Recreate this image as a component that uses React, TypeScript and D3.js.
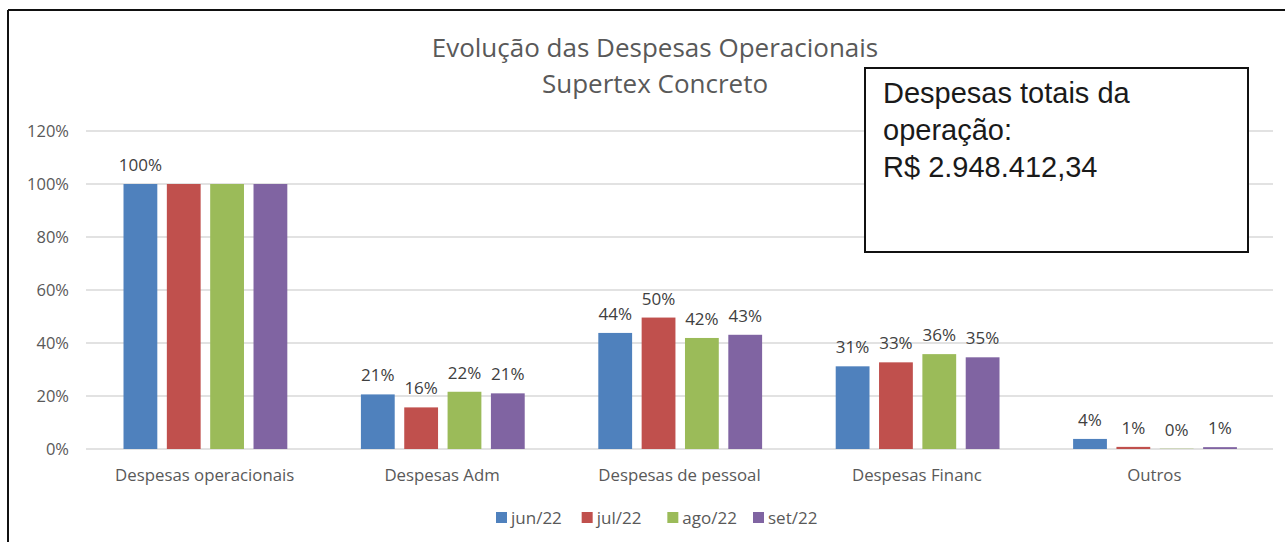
import * as d3 from "d3";

const W = 1285;
const H = 542;

const categories = [
  "Despesas operacionais",
  "Despesas Adm",
  "Despesas de pessoal",
  "Despesas Financ",
  "Outros",
];
const series = ["jun/22", "jul/22", "ago/22", "set/22"];
const colors = ["#4F81BD", "#C0504D", "#9BBB59", "#8064A2"];

// % of operational expenses
const jun = [100, 20.6, 43.8, 31.2, 3.8];
const jul = [100, 15.7, 49.6, 32.7, 0.8];
const ago = [100, 21.6, 41.9, 35.8, 0.1];
const set = [100, 21.0, 43.1, 34.6, 0.7];
const values = [jun, jul, ago, set];

// Excel hid the overlapping 100% labels
const hiddenLabels = ["Despesas operacionais|jul/22", "Despesas operacionais|ago/22", "Despesas operacionais|set/22"];

const yTicks = [0, 20, 40, 60, 80, 100, 120];
const titleLines = ["Evolução das Despesas Operacionais", "Supertex Concreto"];
const boxLines = ["Despesas totais da", "operação:", "R$ 2.948.412,34"];

const font = "'Open Sans', sans-serif";
const grey = "#595959";

export default function App() {
  const x0 = d3.scaleBand().domain(categories).range([86, 1273]);
  const bw = x0.bandwidth();
  const x1 = d3
    .scaleBand()
    .domain(series)
    .range([bw * 0.158, bw * 0.848])
    .paddingInner(0.22);
  const y = d3.scaleLinear().domain([0, 120]).range([449, 131]);
  const fmt = (v: number) => d3.format(".0%")(v / 100);
  const legendX = d3.scalePoint().domain(series).range([496, 753]);

  return (
    <svg width={W} height={H} style={{ position: "absolute", left: 0, top: 0, background: "#fff" }}>
      {/* frame */}
      <line x1={8} x2={W} y1={10} y2={10} stroke="#111" strokeWidth={2} />
      <line x1={8} x2={8} y1={10} y2={H} stroke="#111" strokeWidth={2} />

      {/* title */}
      {titleLines.map((t, i) => (
        <text key={t} x={655} y={57 + i * 36} textAnchor="middle" fontFamily={font} fontSize={26} fill={grey}>
          {t}
        </text>
      ))}

      {/* grid + y labels */}
      {yTicks.map((t) => (
        <g key={t}>
          <line x1={86} x2={1273} y1={y(t)} y2={y(t)} stroke="#D9D9D9" strokeWidth={1.5} />
          <text x={69} y={y(t)} dy="0.35em" textAnchor="end" fontFamily={font} fontSize={16.5} fill={grey}>
            {fmt(t)}
          </text>
        </g>
      ))}

      {/* bars */}
      {categories.map((c, ci) => (
        <g key={c} transform={`translate(${x0(c)},0)`}>
          {series.map((s, si) => {
            const v = values[si][ci];
            const bx = x1(s)!;
            return (
              <g key={s}>
                <rect x={bx} y={y(v)} width={x1.bandwidth()} height={y(0) - y(v)} fill={colors[si]} />
                {!hiddenLabels.includes(c + "|" + s) && (
                  <text x={bx + x1.bandwidth() / 2} y={y(v) - 13} textAnchor="middle" fontFamily={font} fontSize={17} fill="#404040">
                    {fmt(v)}
                  </text>
                )}
              </g>
            );
          })}
          <text x={bw / 2} y={481} textAnchor="middle" fontFamily={font} fontSize={16.8} fill={grey}>
            {c}
          </text>
        </g>
      ))}

      {/* legend */}
      {series.map((s, si) => (
        <g key={s} transform={`translate(${legendX(s)},0)`}>
          <rect x={0} y={512} width={11} height={11} fill={colors[si]} />
          <text x={15} y={518} dy="0.35em" fontFamily={font} fontSize={17} fill={grey}>
            {s}
          </text>
        </g>
      ))}

      {/* text box */}
      <rect x={865} y={68} width={383} height={184} fill="#fff" stroke="#111" strokeWidth={2} />
      {boxLines.map((t, i) => (
        <text key={t} x={883} y={103 + i * 37} fontFamily="'Liberation Sans', Arial, sans-serif" fontSize={29} fill="#1a1a1a">
          {t}
        </text>
      ))}
    </svg>
  );
}
